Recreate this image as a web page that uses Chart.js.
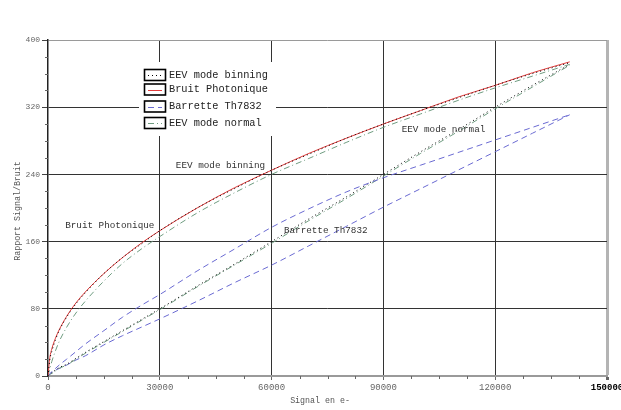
<!DOCTYPE html>
<html><head><meta charset="utf-8">
<script src="https://cdn.jsdelivr.net/npm/chart.js@4/dist/chart.umd.min.js"></script>
<style>html,body{margin:0;padding:0;background:#fff;}canvas{display:block;}</style>
</head><body>
<canvas id="c" width="621" height="410"></canvas>
<script>
// ---- data ----
const signal          = [0, 500, 1000, 2000, 3000, 5000, 7500, 10000, 15000, 20000, 25000, 30000, 40000, 50000, 60000, 70000, 80000, 90000, 100000, 110000, 120000, 130000, 140000];
const bruitPhotonique = [0, 22, 32, 45, 55, 71, 87, 100, 122, 141, 158, 173, 200, 224, 245, 265, 283, 300, 316, 332, 346, 361, 374];
const eevBinning      = [0, 20, 29, 43, 54, 70, 86, 99, 122, 141, 157, 173, 200, 223, 245, 264, 283, 300, 316, 331, 346, 360, 373];
const eevNormal       = [0, 9, 17, 30, 41, 58, 75, 89, 113, 134, 151, 166, 194, 218, 240, 259, 278, 296, 312, 328, 343, 357, 371];
const barretteHaut    = [0, 3, 5, 9, 13, 20, 29, 38, 54, 70, 84, 97, 125, 151, 177, 199, 219, 236, 251, 266, 281, 296, 311];
const eevBinningBas   = [0, 2, 4, 7, 10, 14, 21, 28, 41, 54, 67, 80, 107, 133, 160, 187, 213, 240, 267, 293, 320, 346, 371];
const eevNormalBas    = [0, 2, 3, 6, 9, 13, 20, 27, 40, 53, 66, 79, 106, 132, 158, 185, 211, 238, 265, 291, 318, 344, 370];
const barretteBas     = [0, 2, 4, 7, 9, 13, 19, 24, 37, 48, 58, 68, 89, 111, 132, 155, 178, 201, 223, 245, 267, 289, 311];

const xTicks = [0, 30000, 60000, 90000, 120000, 150000];
const yTicks = [0, 80, 160, 240, 320, 400];
const xMinorStep = 7500;
const yMinorStep = 20;

const legendLabels = ['EEV mode binning', 'Bruit Photonique', 'Barrette Th7832', 'EEV mode normal'];
const curveLabels  = ['Bruit Photonique', 'EEV mode binning', 'Barrette Th7832', 'EEV mode normal'];
const curveLabelX  = [4600, 34300, 63300, 94900];
const curveLabelY  = [179, 250, 173, 294];
const xTitle = 'Signal en e-';
const yTitle = 'Rapport Signal/Bruit';

// ---- styles ----
const MONO = '"Liberation Mono", "DejaVu Sans Mono", monospace';
const sBlackDot = {borderColor: '#000000', borderDash: [1, 3]};
const sRed      = {borderColor: '#e23c3c', borderDash: []};
const sBlue     = {borderColor: '#6a6ad2', borderDash: [6, 4]};
const sGreen    = {borderColor: '#6f9c80', borderDash: [6, 3, 1, 3]};

function mk(label, arr, style) {
  return Object.assign({
    label: label,
    data: signal.map((x, i) => ({x: x, y: arr[i]})),
    borderWidth: 1,
    pointRadius: 0,
    fill: false,
    tension: 0,
    cubicInterpolationMode: 'monotone'
  }, style);
}

const datasets = [
  mk(legendLabels[0], eevBinning, sBlackDot),
  mk(legendLabels[1], bruitPhotonique, sRed),
  mk(legendLabels[2], barretteHaut, sBlue),
  mk(legendLabels[3], eevNormal, sGreen),
  mk(legendLabels[0], eevBinningBas, sBlackDot),
  mk(legendLabels[3], eevNormalBas, sGreen),
  mk(legendLabels[2], barretteBas, sBlue)
];

const decor = {
  id: 'decor',
  afterDatasetsDraw(chart) {
    const ctx = chart.ctx, xs = chart.scales.x, ys = chart.scales.y;
    ctx.save();
    ctx.font = '9.3px ' + MONO;
    ctx.fillStyle = '#333';
    ctx.textBaseline = 'middle';
    ctx.textAlign = 'left';
    curveLabels.forEach((t, i) => {
      ctx.fillText(t, xs.getPixelForValue(curveLabelX[i]), ys.getPixelForValue(curveLabelY[i]));
    });
    ctx.restore();
  },
  afterDraw(chart) {
    const ctx = chart.ctx, xs = chart.scales.x, ys = chart.scales.y, a = chart.chartArea;
    ctx.save();
    // minor ticks
    ctx.strokeStyle = '#666';
    ctx.lineWidth = 1;
    ctx.beginPath();
    for (let v = yMinorStep; v < 400; v += yMinorStep) {
      if (yTicks.includes(v)) continue;
      const y = Math.round(ys.getPixelForValue(v)) + 0.5;
      ctx.moveTo(a.left - 3, y); ctx.lineTo(a.left, y);
    }
    for (let v = xMinorStep; v < 150000; v += xMinorStep) {
      if (xTicks.includes(v)) continue;
      const x = Math.round(xs.getPixelForValue(v)) + 0.5;
      ctx.moveTo(x, a.bottom); ctx.lineTo(x, a.bottom + 3);
    }
    ctx.stroke();
    // axis titles
    ctx.font = '8.3px ' + MONO;
    ctx.fillStyle = '#555';
    ctx.textAlign = 'center';
    ctx.textBaseline = 'middle';
    ctx.fillText(xTitle, 320, 401);
    ctx.save();
    ctx.translate(18, 211);
    ctx.rotate(-Math.PI / 2);
    ctx.fillText(yTitle, 0, 0);
    ctx.restore();
    // legend
    ctx.fillStyle = '#fff';
    ctx.fillRect(139, 62, 137, 74);
    const rows = [75, 89.5, 106.5, 123];
    rows.forEach((ly, i) => {
      const ds = chart.data.datasets[i];
      ctx.setLineDash([]);
      ctx.strokeStyle = '#000';
      ctx.lineWidth = 1.6;
      ctx.strokeRect(144.5, ly - 5.5, 21, 11);
      ctx.beginPath();
      ctx.setLineDash(ds.borderDash || []);
      ctx.strokeStyle = ds.borderColor;
      ctx.lineWidth = 1;
      ctx.moveTo(148, Math.round(ly) + 0.5);
      ctx.lineTo(162, Math.round(ly) + 0.5);
      ctx.stroke();
      ctx.setLineDash([]);
      ctx.fillStyle = '#222';
      ctx.font = '10.3px ' + MONO;
      ctx.textAlign = 'left';
      ctx.textBaseline = 'middle';
      ctx.fillText(legendLabels[i], 169, ly);
    });
    ctx.restore();
  }
};

new Chart(document.getElementById('c'), {
  type: 'line',
  data: {datasets: datasets},
  options: {
    responsive: false,
    animation: false,
    devicePixelRatio: 1,
    layout: {padding: {top: 40, right: 14, left: 0, bottom: 0}},
    plugins: {legend: {display: false}, tooltip: {enabled: false}},
    events: [],
    scales: {
      x: {
        type: 'linear',
        min: 0, max: 150000,
        afterBuildTicks: s => { s.ticks = xTicks.map(v => ({value: v})); },
        afterFit: s => { s.height = 34; s.paddingLeft = 0; s.paddingRight = 0; },
        ticks: {
          autoSkip: false, maxRotation: 0, padding: 2,
          color: c => c.tick && c.tick.value === 150000 ? '#000' : '#666',
          font: c => ({family: MONO, size: 9, weight: (c.tick && c.tick.value === 150000) ? 'bold' : 'normal'}),
          callback: v => String(v)
        },
        grid: {
          color: c => (c.tick && c.tick.value === 0) ? 'rgba(0,0,0,0)' : (c.tick && c.tick.value === 150000 ? '#b4b4b4' : '#333'),
          lineWidth: c => (c.tick && c.tick.value === 150000) ? 3 : 1,
          tickColor: '#666',
          tickLength: 4
        },
        border: {display: true, color: '#9a9a9a', width: 2}
      },
      y: {
        min: 0, max: 400,
        afterBuildTicks: s => { s.ticks = yTicks.map(v => ({value: v})); },
        afterFit: s => { s.width = 48; s.paddingTop = 0; s.paddingBottom = 0; },
        ticks: {
          autoSkip: false, padding: 2, color: '#666',
          font: {family: MONO, size: 8},
          callback: v => String(v)
        },
        grid: {
          color: c => (c.tick && c.tick.value === 0) ? 'rgba(0,0,0,0)' : (c.tick && c.tick.value === 400 ? '#9a9a9a' : '#333'),
          lineWidth: 1,
          tickColor: '#444',
          tickLength: 6
        },
        border: {display: true, color: '#222', width: 1.5}
      }
    }
  },
  plugins: [decor]
});
</script>
</body></html>
